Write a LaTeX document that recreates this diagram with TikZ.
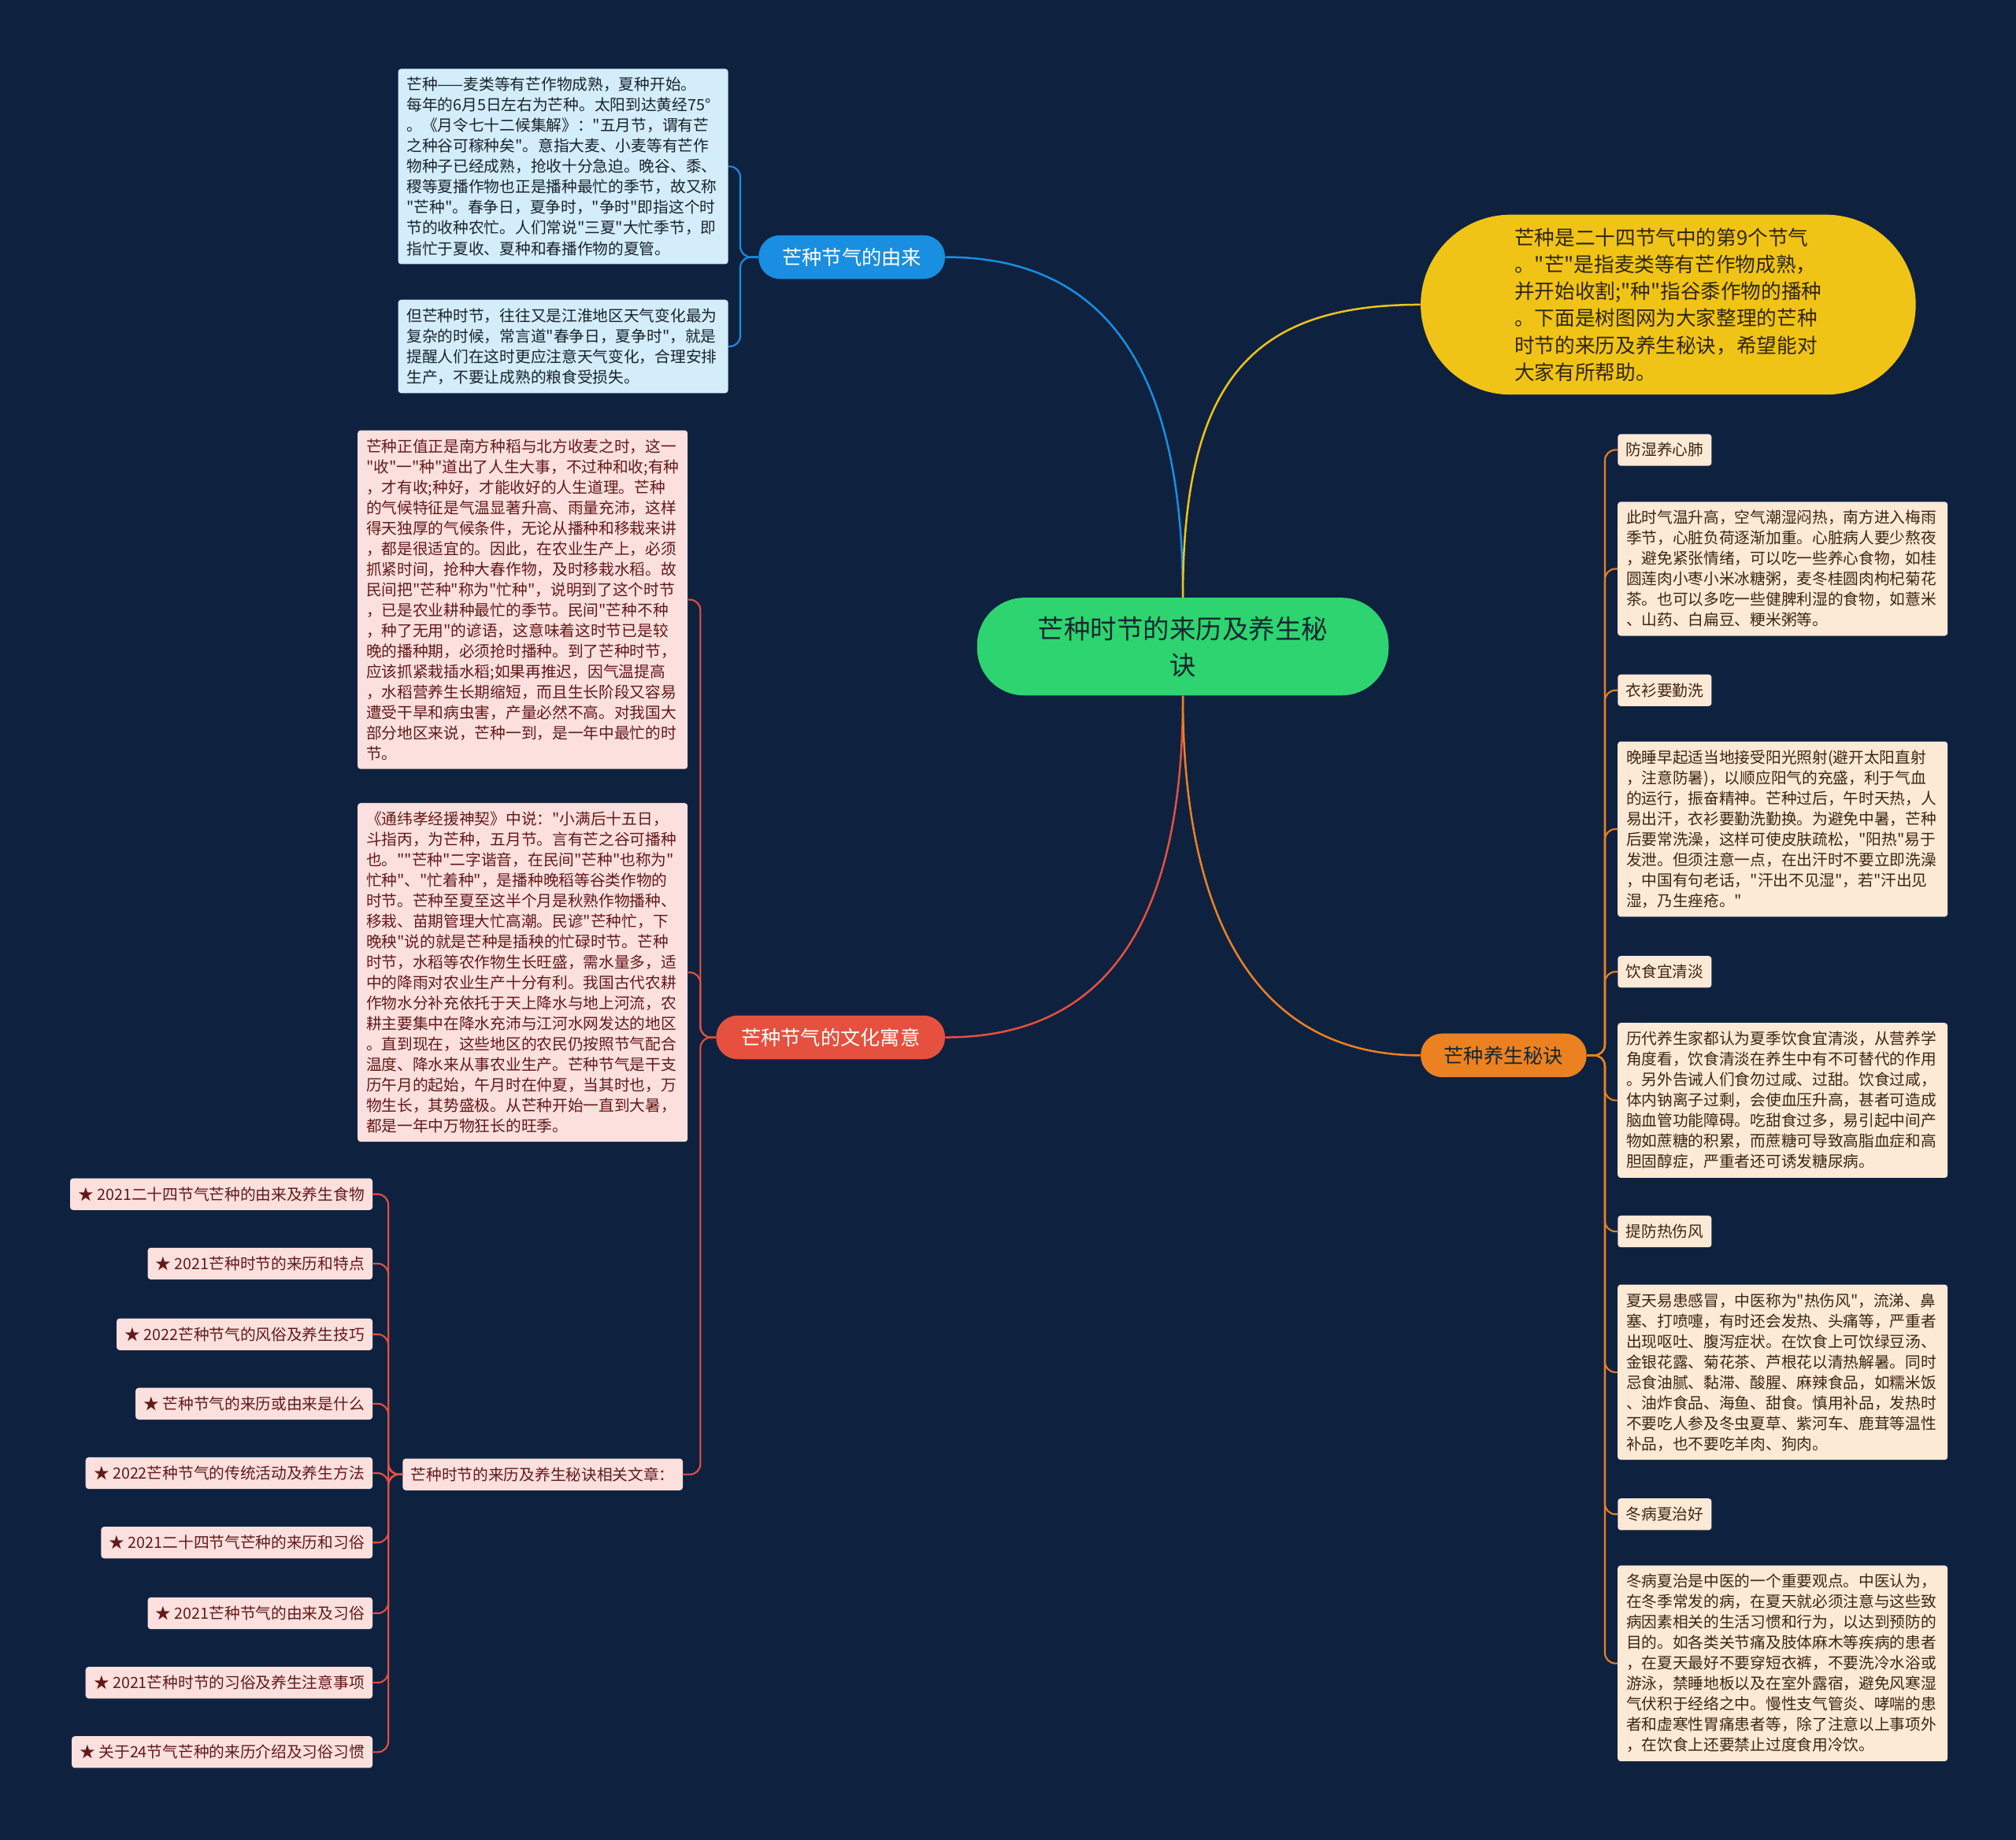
\documentclass[tikz,border=0pt]{standalone}
\usepackage{fontspec}
\newfontfamily\cjk{Noto Sans CJK SC}
\usetikzlibrary{positioning}

\definecolor{navybg}{RGB}{14,34,64}
\definecolor{rootgreen}{RGB}{46,212,112}
\definecolor{rootink}{RGB}{20,40,48}
\definecolor{originblue}{RGB}{26,142,224}
\definecolor{introyellow}{RGB}{240,196,22}
\definecolor{introink}{RGB}{48,38,10}
\definecolor{culturered}{RGB}{230,80,62}
\definecolor{healthorange}{RGB}{236,129,33}
\definecolor{blueFill}{RGB}{212,237,250}
\definecolor{blueInk}{RGB}{25,35,45}
\definecolor{pinkFill}{RGB}{251,224,222}
\definecolor{pinkInk}{RGB}{100,25,25}
\definecolor{peachFill}{RGB}{252,233,214}
\definecolor{peachInk}{RGB}{62,38,16}

\begin{document}
\begin{tikzpicture}[
    x=0.03cm, y=-0.03cm,
    font=\cjk,
    rootnode/.style={rectangle, rounded corners=1.1cm, fill=rootgreen, text=rootink, minimum width=9.6cm, minimum height=2.28cm, align=center, font=\cjk\fontsize{17.5}{24}\selectfont},
    branch/.style={rectangle, rounded corners=0.5cm, minimum height=1.02cm, inner xsep=0pt, font=\cjk\fontsize{13.2}{16}\selectfont},
    leaf/.style={rectangle, rounded corners=2pt, text width=7.3cm, inner xsep=0.2cm, inner ysep=0.2cm, align=left, font=\cjk\fontsize{10.3}{13.6}\selectfont},
    tag/.style={rectangle, rounded corners=2pt, minimum height=0.74cm, inner xsep=0.19cm, font=\cjk\fontsize{10.3}{13}\selectfont},
    blueleaf/.style={leaf, fill=blueFill, text=blueInk},
    pinkleaf/.style={leaf, fill=pinkFill, text=pinkInk},
    peachleaf/.style={leaf, fill=peachFill, text=peachInk},
    link/.style={line width=1.3pt},
    twig/.style={line width=1.1pt, rounded corners=7pt}
]

\useasboundingbox (0,0) rectangle (1568,1431.4);
\fill[navybg] (0,0) rectangle (1568,1431.4);

% centre and main branches
\node[rootnode] (root) at (920,503) {芒种时节的来历及养生秘\\诀};

\node[branch, fill=originblue, text=white, minimum width=4.35cm] (origin) at (662.5,200) {芒种节气的由来};
\node[branch, fill=culturered, text=white, minimum width=5.34cm] (culture) at (646,807) {芒种节气的文化寓意};
\node[branch, fill=healthorange, text=rootink, minimum width=3.87cm] (health) at (1169.5,821) {芒种养生秘诀};

\node[rectangle, rounded corners=2.1cm, fill=introyellow, text=introink, minimum width=11.55cm, minimum height=4.2cm, align=left, font=\cjk\fontsize{13.4}{17.9}\selectfont] (intro) at (1297.5,237) {%
芒种是二十四节气中的第9个节气\\
。"芒"是指麦类等有芒作物成熟，\\
并开始收割;"种"指谷黍作物的播种\\
。下面是树图网为大家整理的芒种\\
时节的来历及养生秘诀，希望能对\\
大家有所帮助。};

\draw[link, originblue] (root.north) .. controls +(0,-170) and +(130,0) .. (origin.east);
\draw[link, introyellow] (root.north) .. controls +(0,-170) and +(-130,0) .. (intro.west);
\draw[link, culturered] (root.south) .. controls +(0,170) and +(130,0) .. (culture.east);
\draw[link, healthorange] (root.south) .. controls +(0,170) and +(-130,0) .. (health.west);

% origin
\node[blueleaf] (lore1) at (438,129.5) {%
芒种——麦类等有芒作物成熟，夏种开始。\\
每年的6月5日左右为芒种。太阳到达黄经75°\\
。《月令七十二候集解》："五月节，谓有芒\\
之种谷可稼种矣"。意指大麦、小麦等有芒作\\
物种子已经成熟，抢收十分急迫。晚谷、黍、\\
稷等夏播作物也正是播种最忙的季节，故又称\\
"芒种"。春争日，夏争时，"争时"即指这个时\\
节的收种农忙。人们常说"三夏"大忙季节，即\\
指忙于夏收、夏种和春播作物的夏管。};
\node[blueleaf] (lore2) at (438,269.5) {%
但芒种时节，往往又是江淮地区天气变化最为\\
复杂的时候，常言道"春争日，夏争时"，就是\\
提醒人们在这时更应注意天气变化，合理安排\\
生产，不要让成熟的粮食受损失。};

\draw[twig, originblue] (origin.west) -- ++(-14,0) |- (lore1.east);
\draw[twig, originblue] (origin.west) -- ++(-14,0) |- (lore2.east);

% culture
\node[pinkleaf] (meaning1) at (406.5,466.5) {%
芒种正值正是南方种稻与北方收麦之时，这一\\
"收"一"种"道出了人生大事，不过种和收;有种\\
，才有收;种好，才能收好的人生道理。芒种\\
的气候特征是气温显著升高、雨量充沛，这样\\
得天独厚的气候条件，无论从播种和移栽来讲\\
，都是很适宜的。因此，在农业生产上，必须\\
抓紧时间，抢种大春作物，及时移栽水稻。故\\
民间把"芒种"称为"忙种"，说明到了这个时节\\
，已是农业耕种最忙的季节。民间"芒种不种\\
，种了无用"的谚语，这意味着这时节已是较\\
晚的播种期，必须抢时播种。到了芒种时节，\\
应该抓紧栽插水稻;如果再推迟，因气温提高\\
，水稻营养生长期缩短，而且生长阶段又容易\\
遭受干旱和病虫害，产量必然不高。对我国大\\
部分地区来说，芒种一到，是一年中最忙的时\\
节。};
\node[pinkleaf] (meaning2) at (406.5,756.5) {%
《通纬孝经援神契》中说："小满后十五日，\\
斗指丙，为芒种，五月节。言有芒之谷可播种\\
也。""芒种"二字谐音，在民间"芒种"也称为"\\
忙种"、"忙着种"，是播种晚稻等谷类作物的\\
时节。芒种至夏至这半个月是秋熟作物播种、\\
移栽、苗期管理大忙高潮。民谚"芒种忙，下\\
晚秧"说的就是芒种是插秧的忙碌时节。芒种\\
时节，水稻等农作物生长旺盛，需水量多，适\\
中的降雨对农业生产十分有利。我国古代农耕\\
作物水分补充依托于天上降水与地上河流，农\\
耕主要集中在降水充沛与江河水网发达的地区\\
。直到现在，这些地区的农民仍按照节气配合\\
温度、降水来从事农业生产。芒种节气是干支\\
历午月的起始，午月时在仲夏，当其时也，万\\
物生长，其势盛极。从芒种开始一直到大暑，\\
都是一年中万物狂长的旺季。};
\node[tag, fill=pinkFill, text=pinkInk, anchor=west] (related) at (313,1147) {芒种时节的来历及养生秘诀相关文章：};

\draw[twig, culturered] (culture.west) -- ++(-12,0) |- (meaning1.east);
\draw[twig, culturered] (culture.west) -- ++(-12,0) |- (meaning2.east);
\draw[twig, culturered] (culture.west) -- ++(-12,0) |- (related.east);

\foreach \yy/\txt [count=\i] in {
    929/{★ 2021二十四节气芒种的由来及养生食物},
    983/{★ 2021芒种时节的来历和特点},
    1038/{★ 2022芒种节气的风俗及养生技巧},
    1092/{★ 芒种节气的来历或由来是什么},
    1146/{★ 2022芒种节气的传统活动及养生方法},
    1200/{★ 2021二十四节气芒种的来历和习俗},
    1255/{★ 2021芒种节气的由来及习俗},
    1309/{★ 2021芒种时节的习俗及养生注意事项},
    1363/{★ 关于24节气芒种的来历介绍及习俗习惯}} {
    \node[tag, fill=pinkFill, text=pinkInk, anchor=east] (article\i) at (290,\yy) {\txt};
    \draw[twig, culturered] (related.west) -- ++(-11,0) |- (article\i.east);
}

% health tips
\foreach \yy/\txt [count=\i] in {350/防湿养心肺, 537/衣衫要勤洗, 756/饮食宜清淡, 958/提防热伤风, 1178/冬病夏治好} {
    \node[tag, fill=peachFill, text=peachInk, anchor=west] (tip\i) at (1258,\yy) {\txt};
    \draw[twig, healthorange] (health.east) -- ++(14,0) |- (tip\i.west);
}

\node[peachleaf] (advice1) at (1386.5,442.5) {%
此时气温升高，空气潮湿闷热，南方进入梅雨\\
季节，心脏负荷逐渐加重。心脏病人要少熬夜\\
，避免紧张情绪，可以吃一些养心食物，如桂\\
圆莲肉小枣小米冰糖粥，麦冬桂圆肉枸杞菊花\\
茶。也可以多吃一些健脾利湿的食物，如薏米\\
、山药、白扁豆、粳米粥等。};
\node[peachleaf] (advice2) at (1386.5,645) {%
晚睡早起适当地接受阳光照射(避开太阳直射\\
，注意防暑)，以顺应阳气的充盛，利于气血\\
的运行，振奋精神。芒种过后，午时天热，人\\
易出汗，衣衫要勤洗勤换。为避免中暑，芒种\\
后要常洗澡，这样可使皮肤疏松，"阳热"易于\\
发泄。但须注意一点，在出汗时不要立即洗澡\\
，中国有句老话，"汗出不见湿"，若"汗出见\\
湿，乃生痤疮。"};
\node[peachleaf] (advice3) at (1386.5,856) {%
历代养生家都认为夏季饮食宜清淡，从营养学\\
角度看，饮食清淡在养生中有不可替代的作用\\
。另外告诫人们食勿过咸、过甜。饮食过咸，\\
体内钠离子过剩，会使血压升高，甚者可造成\\
脑血管功能障碍。吃甜食过多，易引起中间产\\
物如蔗糖的积累，而蔗糖可导致高脂血症和高\\
胆固醇症，严重者还可诱发糖尿病。};
\node[peachleaf] (advice4) at (1386.5,1067.5) {%
夏天易患感冒，中医称为"热伤风"，流涕、鼻\\
塞、打喷嚏，有时还会发热、头痛等，严重者\\
出现呕吐、腹泻症状。在饮食上可饮绿豆汤、\\
金银花露、菊花茶、芦根花以清热解暑。同时\\
忌食油腻、黏滞、酸腥、麻辣食品，如糯米饭\\
、油炸食品、海鱼、甜食。慎用补品，发热时\\
不要吃人参及冬虫夏草、紫河车、鹿茸等温性\\
补品，也不要吃羊肉、狗肉。};
\node[peachleaf] (advice5) at (1386.5,1294) {%
冬病夏治是中医的一个重要观点。中医认为，\\
在冬季常发的病，在夏天就必须注意与这些致\\
病因素相关的生活习惯和行为，以达到预防的\\
目的。如各类关节痛及肢体麻木等疾病的患者\\
，在夏天最好不要穿短衣裤，不要洗冷水浴或\\
游泳，禁睡地板以及在室外露宿，避免风寒湿\\
气伏积于经络之中。慢性支气管炎、哮喘的患\\
者和虚寒性胃痛患者等，除了注意以上事项外\\
，在饮食上还要禁止过度食用冷饮。};

\foreach \i in {1,...,5} {
    \draw[twig, healthorange] (health.east) -- ++(14,0) |- (advice\i.west);
}
\end{tikzpicture}
\end{document}
